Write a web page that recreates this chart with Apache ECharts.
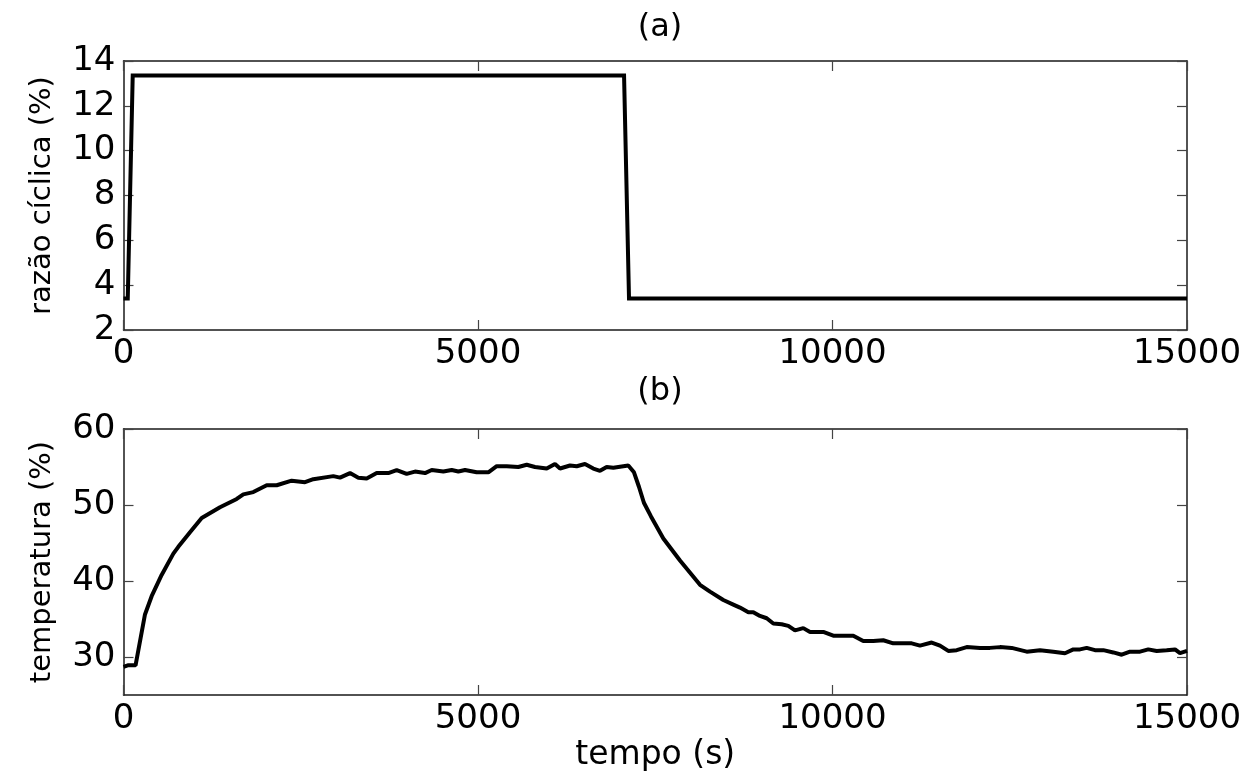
<!DOCTYPE html>
<html>
<head>
<meta charset="utf-8">
<script src="https://cdn.jsdelivr.net/npm/echarts@6/dist/echarts.min.js"></script>
<style>
html,body{margin:0;padding:0;background:#fff;}
#chart{width:1251px;height:773px;}
</style>
</head>
<body>
<div id="chart"></div>
<script>
// ---- data ----
const dutyTime  = [0, 60, 130, 7060, 7130, 15000];
const dutyValue = [3.4, 3.4, 13.35, 13.35, 3.4, 3.4];

const tempTime = [0, 60, 170, 303, 397, 538, 703, 773, 938, 1103, 1361, 1597, 1690, 1831, 2020, 2161, 2372, 2560, 2677, 2959, 3054, 3195, 3312, 3430, 3571, 3735, 3853, 3994, 4111, 4253, 4347, 4511, 4629, 4723, 4817, 4981, 5146, 5264, 5405, 5569, 5687, 5804, 5969, 6086, 6157, 6298, 6392, 6509, 6626, 6721, 6815, 6909, 7120, 7140, 7200, 7270, 7340, 7440, 7614, 7849, 8131, 8272, 8460, 8601, 8695, 8813, 8883, 8977, 9072, 9165, 9283, 9377, 9471, 9588, 9683, 9870, 10011, 10130, 10293, 10434, 10575, 10716, 10857, 11117, 11234, 11399, 11516, 11633, 11752, 11893, 12080, 12221, 12362, 12527, 12739, 12927, 13114, 13279, 13397, 13491, 13585, 13702, 13820, 13961, 14079, 14196, 14337, 14454, 14572, 14713, 14831, 14901, 15000];
const tempValue = [28.7, 28.9, 28.9, 35.6, 38.0, 40.8, 43.6, 44.5, 46.4, 48.3, 49.7, 50.8, 51.4, 51.7, 52.6, 52.6, 53.2, 53.0, 53.4, 53.8, 53.6, 54.2, 53.6, 53.5, 54.2, 54.2, 54.6, 54.1, 54.4, 54.2, 54.6, 54.4, 54.6, 54.4, 54.6, 54.3, 54.3, 55.1, 55.1, 55.0, 55.3, 55.0, 54.8, 55.4, 54.8, 55.2, 55.1, 55.4, 54.8, 54.5, 55.0, 54.9, 55.2, 55.2, 54.3, 52.4, 50.3, 48.5, 45.6, 42.7, 39.5, 38.6, 37.5, 36.9, 36.5, 35.9, 35.9, 35.4, 35.1, 34.4, 34.3, 34.1, 33.5, 33.8, 33.3, 33.3, 32.8, 32.8, 32.8, 32.1, 32.1, 32.2, 31.8, 31.8, 31.5, 31.9, 31.5, 30.8, 30.9, 31.3, 31.2, 31.2, 31.3, 31.2, 30.7, 30.9, 30.7, 30.5, 31.0, 31.0, 31.2, 30.9, 30.9, 30.6, 30.3, 30.7, 30.7, 31.0, 30.8, 30.9, 31.0, 30.5, 30.8];

const xTicks = [0, 5000, 10000, 15000];
const dutyTicks = [2, 4, 6, 8, 10, 12, 14];
const tempTicks = [30, 40, 50, 60];

const titles = ['(a)', '(b)'];
const dutyLabel = 'razão cíclica (%)';
const tempLabel = 'temperatura (%)';
const timeLabel = 'tempo (s)';

// ---- chart ----
const FONT = 'DejaVu Sans';
const lineCol = '#1a1a1a';
const axisLine = {show: true, onZero: false, lineStyle: {color: lineCol, width: 1.5}};
const tick = {show: true, inside: true, length: 10, lineStyle: {color: '#444', width: 1.2}};
const lbl = {color: '#000', fontFamily: FONT, fontSize: 34, formatter: v => String(v)};

function xAx(gi, pos, withLabels, name) {
  return {
    type: 'value', gridIndex: gi, position: pos, min: 0, max: 15000, interval: 5000,
    axisLine, axisTick: Object.assign({}, tick, {customValues: xTicks}),
    axisLabel: Object.assign({show: withLabels, margin: 7, customValues: xTicks}, lbl),
    splitLine: {show: false},
    name: name || '', nameLocation: 'middle', nameGap: 44,
    nameTextStyle: {color: '#000', fontFamily: FONT, fontSize: 33, verticalAlign: 'top'}
  };
}
function yAx(gi, pos, min, max, ticks, withLabels, name) {
  return {
    type: 'value', gridIndex: gi, position: pos, min, max,
    axisLine, axisTick: Object.assign({}, tick, {customValues: ticks}),
    axisLabel: Object.assign({show: withLabels, margin: 8, customValues: ticks}, lbl),
    splitLine: {show: false},
    name: name || '', nameLocation: 'middle', nameGap: 67, nameRotate: 90,
    nameTextStyle: {color: '#000', fontFamily: FONT, fontSize: 29}
  };
}

const chart = echarts.init(document.getElementById('chart'), null, {renderer: 'canvas'});
chart.setOption({
  backgroundColor: '#fff',
  animation: false,
  title: [
    {text: titles[0], left: 655, top: 7, textAlign: 'center',
     textStyle: {fontFamily: FONT, fontSize: 32, fontWeight: 'normal', color: '#000'}},
    {text: titles[1], left: 655, top: 371, textAlign: 'center',
     textStyle: {fontFamily: FONT, fontSize: 32, fontWeight: 'normal', color: '#000'}}
  ],
  grid: [
    {left: 123.5, right: 64, top: 61, height: 269},
    {left: 123.5, right: 64, top: 429, height: 269}
  ],
  xAxis: [
    xAx(0, 'bottom', true),
    xAx(0, 'top', false),
    xAx(1, 'bottom', true, timeLabel),
    xAx(1, 'top', false)
  ],
  yAxis: [
    yAx(0, 'left', 2, 14, dutyTicks, true, dutyLabel),
    yAx(0, 'right', 2, 14, dutyTicks, false),
    yAx(1, 'left', 25, 60, tempTicks, true, tempLabel),
    yAx(1, 'right', 25, 60, tempTicks, false)
  ],
  series: [
    {type: 'line', xAxisIndex: 0, yAxisIndex: 0, showSymbol: false,
     lineStyle: {color: '#000', width: 4, join: 'miter'},
     data: dutyTime.map((t, i) => [t, dutyValue[i]])},
    {type: 'line', xAxisIndex: 2, yAxisIndex: 2, showSymbol: false,
     lineStyle: {color: '#000', width: 4},
     data: tempTime.map((t, i) => [t, tempValue[i]])}
  ]
});
</script>
</body>
</html>
